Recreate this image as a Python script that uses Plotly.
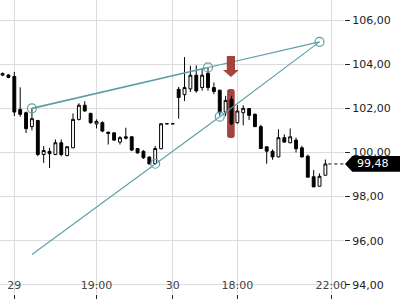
import plotly.graph_objects as go

# ---- data ----
opens = [103.50, 103.51, 103.44, 101.95, 101.80, 101.17, 101.45, 99.91, 100.05, 99.91,
         100.44, 99.86, 100.21, 101.50, 102.14, 101.77, 101.29, 101.35, 100.92, 100.89,
         100.47, 100.71, 100.71, 100.18, 100.05, 99.79, 99.50, 100.17, 101.30, 101.30,
         102.86, 102.62, 102.88, 103.50, 102.94, 103.59, 102.94, 102.82, 101.83, 102.41,
         101.35, 101.80, 101.99, 101.73, 101.17, 100.26, 100.05, 99.80, 100.67, 100.44,
         100.56, 100.21, 99.83, 98.90, 98.47, 98.97]
highs = [103.62, 103.55, 103.65, 102.95, 101.85, 102.00, 101.47, 100.29, 100.21, 100.59,
         100.59, 100.29, 101.77, 102.23, 102.32, 101.80, 101.50, 101.41, 100.94, 100.90,
         100.74, 101.12, 100.74, 100.20, 100.11, 99.83, 100.29, 101.32, 101.30, 101.30,
         102.97, 104.32, 103.93, 103.95, 103.80, 103.85, 103.17, 102.84, 102.56, 102.56,
         102.15, 102.14, 102.01, 101.77, 101.25, 100.27, 100.14, 101.05, 100.82, 101.09,
         100.67, 100.30, 99.90, 99.20, 99.05, 99.68]
lows = [103.46, 103.36, 101.65, 101.62, 100.88, 101.00, 99.83, 99.53, 99.30, 99.88,
        99.83, 99.83, 100.20, 101.45, 101.85, 101.30, 101.09, 100.92, 100.36, 100.52,
        100.36, 100.59, 100.06, 99.95, 99.71, 99.47, 99.45, 100.15, 101.30, 101.30,
        101.53, 102.33, 102.74, 102.71, 102.80, 102.80, 102.64, 101.67, 101.65, 101.24,
        101.30, 101.23, 101.47, 101.17, 100.18, 99.49, 99.67, 99.78, 100.44, 100.42,
        100.00, 99.77, 98.88, 98.44, 98.47, 98.95]
closes = [103.58, 103.40, 101.83, 101.73, 101.08, 101.53, 99.91, 100.09, 99.95, 100.44,
          99.91, 100.26, 101.50, 102.14, 101.88, 101.35, 101.41, 100.97, 100.86, 100.56,
          100.67, 100.65, 100.11, 99.98, 99.76, 99.48, 100.18, 101.30, 101.30, 101.30,
          102.49, 102.94, 103.50, 102.79, 103.50, 102.94, 102.76, 101.80, 102.36, 101.30,
          101.88, 102.00, 101.68, 101.17, 100.18, 100.06, 99.80, 100.67, 100.47, 100.71,
          100.17, 99.80, 98.88, 98.44, 98.92, 99.48]
x_idx = list(range(len(closes)))

x_tick_pos = [2, 16, 29, 40, 56]
x_tick_text = ["29", "19:00", "30", "18:00", "22:00"]
y_ticks = [94, 96, 98, 100, 102, 104, 106]

# trend lines (index, value)
upper_x = [5, 35, 54]
upper_y = [102.00, 103.85, 105.01]
lower_x = [5, 26, 37, 54]
lower_y = [95.38, 99.49, 101.62, 105.01]
pts_x = [5, 26, 35, 37, 54]
pts_y = [102.00, 99.49, 103.85, 101.62, 105.01]

last_price = 99.48
signal_idx = 38.9
signal_bar = (100.66, 102.88)
signal_arrow = (104.37, 103.74, 103.42)

TEAL = "#5b9fa8"
RED = "#9e3b33"
FONT = "DejaVu Sans"

fig = go.Figure()
fig.add_trace(go.Candlestick(
    x=x_idx, open=opens, high=highs, low=lows, close=closes,
    increasing=dict(line=dict(color="black", width=1), fillcolor="white"),
    decreasing=dict(line=dict(color="black", width=1), fillcolor="black"),
    whiskerwidth=0, showlegend=False, hoverinfo="skip"))

fig.add_trace(go.Scatter(x=upper_x[:2], y=upper_y[:2], mode="lines",
                         line=dict(color=TEAL, width=1.7), showlegend=False, hoverinfo="skip"))
fig.add_trace(go.Scatter(x=upper_x[1:], y=upper_y[1:], mode="lines",
                         line=dict(color=TEAL, width=1.1), showlegend=False, hoverinfo="skip"))
fig.add_trace(go.Scatter(x=lower_x, y=lower_y, mode="lines",
                         line=dict(color=TEAL, width=1.1), showlegend=False, hoverinfo="skip"))
fig.add_trace(go.Scatter(x=pts_x, y=pts_y, mode="markers",
                         marker=dict(symbol="circle-open", size=9, color=TEAL, line=dict(width=1.2)),
                         showlegend=False, hoverinfo="skip"))

# red signal bar (rounded)
x0, x1 = signal_idx - 0.65, signal_idx + 0.65
y0, y1 = signal_bar
rx, ry = 0.45, 0.12
bar_path = (f"M {x0+rx},{y1} L {x1-rx},{y1} Q {x1},{y1} {x1},{y1-ry} L {x1},{y0+ry} "
            f"Q {x1},{y0} {x1-rx},{y0} L {x0+rx},{y0} Q {x0},{y0} {x0},{y0+ry} "
            f"L {x0},{y1-ry} Q {x0},{y1} {x0+rx},{y1} Z")
fig.add_shape(type="path", path=bar_path, xref="x", yref="y", fillcolor=RED,
              line=dict(width=0), layer="between", opacity=0.95)

# red down arrow
a_top, a_mid, a_tip = signal_arrow
sx0, sx1 = signal_idx - 0.7, signal_idx + 0.7
hx0, hx1 = signal_idx - 1.35, signal_idx + 1.35
arrow_path = (f"M {sx0},{a_top} L {sx1},{a_top} L {sx1},{a_mid} L {hx1},{a_mid} "
              f"L {signal_idx},{a_tip} L {hx0},{a_mid} L {sx0},{a_mid} Z")
fig.add_shape(type="path", path=arrow_path, xref="x", yref="y", fillcolor=RED,
              line=dict(width=0), layer="above", opacity=0.95)

# last price dashed line and tag
fig.add_shape(type="line", xref="x", yref="y", x0=x_idx[-1] + 0.5, x1=58.2,
              y0=last_price, y1=last_price, line=dict(color="black", width=1, dash="3px,3px"))
tag = (f"M 1.003,{last_price} L 1.024,{last_price+0.355} L 1.17,{last_price+0.355} "
       f"L 1.17,{last_price-0.355} L 1.024,{last_price-0.355} Z")
fig.add_shape(type="path", path=tag, xref="paper", yref="y", fillcolor="black",
              line=dict(width=0), layer="above")
fig.add_annotation(x=1.032, y=last_price, xref="paper", yref="y", text="99,48",
                   showarrow=False, xanchor="left", yanchor="middle",
                   font=dict(family=FONT, size=11, color="white"))

fig.update_layout(
    width=400, height=300,
    margin=dict(l=0, r=56, t=0, b=6),
    paper_bgcolor="white", plot_bgcolor="white",
    separators=",.",
    font=dict(family=FONT, size=11, color="#222"),
    xaxis=dict(range=[-0.44, 58.17], tickvals=x_tick_pos, ticktext=x_tick_text,
               showgrid=True, gridcolor="#dcdcdc", gridwidth=1, zeroline=False,
               ticks="outside", ticklen=4, tickcolor="#222",
               ticklabelposition="inside", ticklabeloverflow="allow",
               rangeslider=dict(visible=False), showline=False, fixedrange=True),
    yaxis=dict(range=[93.59, 106.906], side="right", tickvals=y_ticks, tickformat=".2f",
               showgrid=True, gridcolor="#dcdcdc", gridwidth=1, zeroline=False,
               ticks="outside", ticklen=5, tickcolor="#222", showline=False),
)

fig.write_html("out.html")
